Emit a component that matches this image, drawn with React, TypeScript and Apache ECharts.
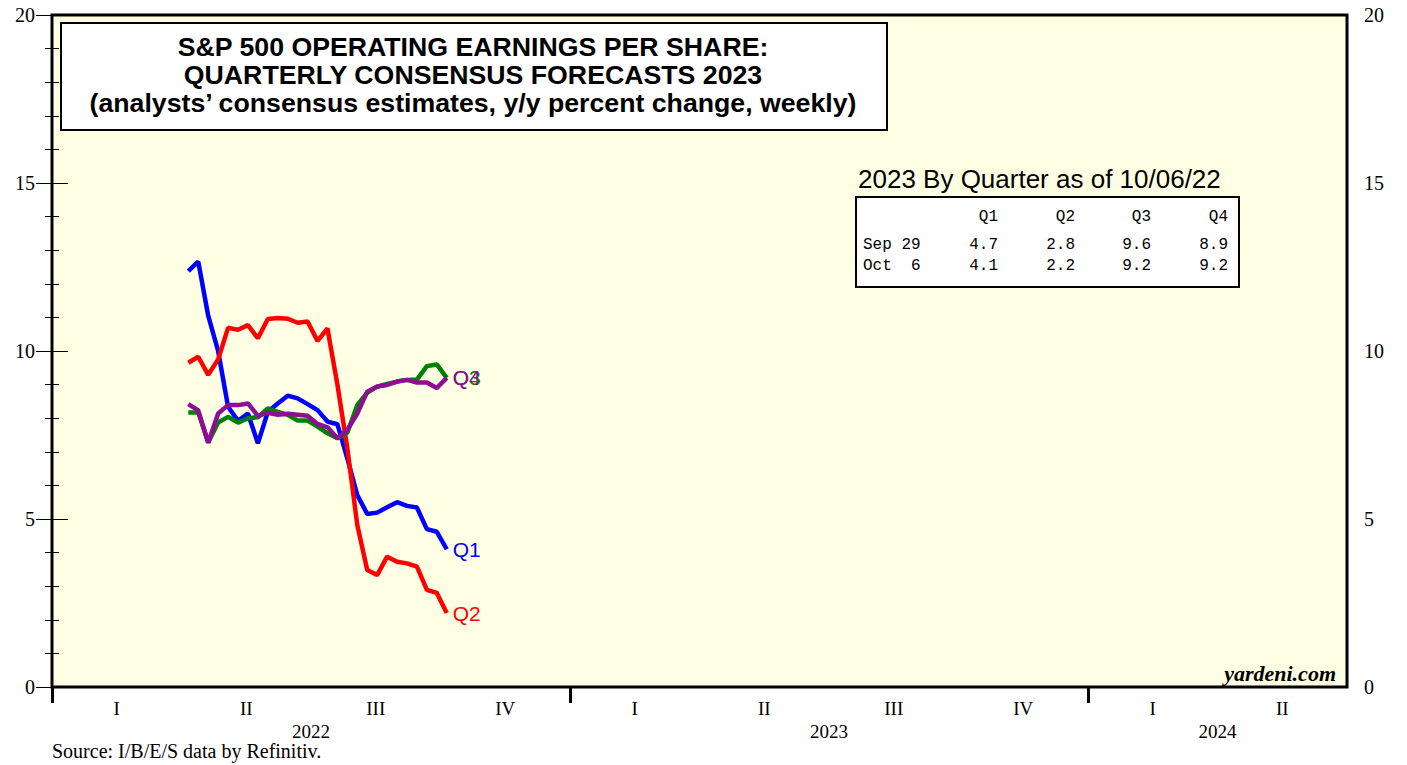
import React, { useEffect, useRef } from 'react';
import * as echarts from 'echarts';

const weeks = [
  '2022-04-07', '2022-04-14', '2022-04-21', '2022-04-28', '2022-05-05', '2022-05-12', '2022-05-19',
  '2022-05-26', '2022-06-02', '2022-06-09', '2022-06-16', '2022-06-23', '2022-06-30', '2022-07-07',
  '2022-07-14', '2022-07-21', '2022-07-28', '2022-08-04', '2022-08-11', '2022-08-18', '2022-08-25',
  '2022-09-01', '2022-09-08', '2022-09-15', '2022-09-22', '2022-09-29', '2022-10-06',
];
const q1 = [12.38, 12.66, 11.05, 10.0, 8.34, 7.92, 8.14, 7.25, 8.19, 8.44, 8.67, 8.59, 8.42, 8.24, 7.9, 7.82, 6.8, 5.71, 5.15, 5.19, 5.35, 5.5, 5.39, 5.34, 4.7, 4.62, 4.1];
const q2 = [9.65, 9.83, 9.29, 9.75, 10.69, 10.63, 10.77, 10.38, 10.95, 10.98, 10.96, 10.84, 10.88, 10.3, 10.67, 9.0, 7.1, 4.82, 3.48, 3.33, 3.88, 3.73, 3.68, 3.58, 2.89, 2.8, 2.2];
const q3 = [8.17, 8.17, 7.28, 7.87, 8.04, 7.87, 8.0, 8.03, 8.29, 8.19, 8.1, 7.93, 7.93, 7.75, 7.55, 7.4, 7.57, 8.39, 8.76, 8.94, 9.02, 9.09, 9.14, 9.15, 9.55, 9.6, 9.2];
const q4 = [8.42, 8.23, 7.27, 8.14, 8.39, 8.39, 8.44, 8.07, 8.16, 8.1, 8.13, 8.1, 8.07, 7.83, 7.73, 7.4, 7.65, 8.14, 8.79, 8.94, 8.99, 9.09, 9.14, 9.06, 9.06, 8.9, 9.2];

const seriesNames = ['Q1', 'Q2', 'Q3', 'Q4'];
const seriesColors = ['#0000FF', '#FF0000', '#008000', '#8E0C96'];

const quarterLabels = ['I', 'II', 'III', 'IV', 'I', 'II', 'III', 'IV', 'I', 'II'];
const quarterLabelPositions = [0.5, 1.5, 2.5, 3.5, 4.5, 5.5, 6.5, 7.5, 8.5, 9.5];
const yearLabels = ['2022', '2023', '2024'];
const yearLabelPositions = [2, 6, 9];
const yearTickPositions = [0, 4, 8];

const titleLines = [
  'S&P 500 OPERATING EARNINGS PER SHARE:',
  'QUARTERLY CONSENSUS FORECASTS 2023',
  '(analysts\u2019 consensus estimates, y/y percent change, weekly)',
];
const tableTitle = '2023 By Quarter as of 10/06/22';
const tableHeader = ['Q1', 'Q2', 'Q3', 'Q4'];
const tableRowLabels = ['Sep 29', 'Oct  6'];
const tableSep29 = [4.7, 2.8, 9.6, 8.9];
const tableOct6 = [4.1, 2.2, 9.2, 9.2];
const sourceText = 'Source: I/B/E/S data by Refinitiv.';
const brandText = 'yardeni.com';

const SERIF = "'Liberation Serif', 'Times New Roman', serif";
const SANS = "'Liberation Sans', Arial, sans-serif";
const MONO = "'Liberation Mono', 'Courier New', monospace";

export default function App() {
  const ref = useRef<HTMLDivElement>(null);
  useEffect(() => {
    const chart = echarts.init(ref.current!, null, { renderer: 'svg' });
    const allSeries = [q1, q2, q3, q4];
    const tableRows = [tableSep29, tableOct6];
    const colX = [998, 1075, 1151, 1228];
    const graphics: any[] = [];
    // title box
    graphics.push({
      type: 'rect', left: 60, top: 22, z: 10,
      shape: { width: 826, height: 107 },
      style: { fill: '#FFFFFF', stroke: '#000000', lineWidth: 2 },
    });
    titleLines.forEach((t, i) => {
      graphics.push({
        type: 'text', x: 473, y: 47 + i * 28, z: 11,
        style: { text: t, font: `bold 26.7px ${SANS}`, fill: '#000', align: 'center', verticalAlign: 'middle' },
      });
    });
    // table
    graphics.push({
      type: 'text', x: 858, y: 179, z: 11,
      style: { text: tableTitle, font: `26px ${SANS}`, fill: '#000', align: 'left', verticalAlign: 'middle' },
    });
    graphics.push({
      type: 'rect', left: 855, top: 196, z: 10,
      shape: { width: 383, height: 90 },
      style: { fill: '#FFFFFF', stroke: '#000000', lineWidth: 2 },
    });
    tableHeader.forEach((h, i) => {
      graphics.push({
        type: 'text', x: colX[i], y: 217, z: 11,
        style: { text: h, font: `16px ${MONO}`, fill: '#000', align: 'right', verticalAlign: 'middle' },
      });
    });
    tableRows.forEach((row, r) => {
      const y = 245 + r * 21;
      graphics.push({
        type: 'text', x: 863, y, z: 11,
        style: { text: tableRowLabels[r], font: `16px ${MONO}`, fill: '#000', align: 'left', verticalAlign: 'middle' },
      });
      row.forEach((v, i) => {
        graphics.push({
          type: 'text', x: colX[i], y, z: 11,
          style: { text: v.toFixed(1), font: `16px ${MONO}`, fill: '#000', align: 'right', verticalAlign: 'middle' },
        });
      });
    });
    graphics.push({
      type: 'text', x: 1336, y: 673, z: 11,
      style: { text: brandText, font: `italic bold 22px ${SERIF}`, fill: '#000', align: 'right', verticalAlign: 'middle' },
    });
    graphics.push({
      type: 'text', x: 52, y: 751, z: 11,
      style: { text: sourceText, font: `20px ${SERIF}`, fill: '#000', align: 'left', verticalAlign: 'middle' },
    });

    const yAxisCommon = {
      type: 'value', min: 0, max: 20, interval: 5,
      axisLine: { show: false },
      axisTick: { show: true, length: 16, lineStyle: { color: '#000', width: 1 } },
      minorTick: { show: true, splitNumber: 5, length: 7, lineStyle: { color: '#000', width: 1 } },
      splitLine: { show: false },
      minorSplitLine: { show: false },
      axisLabel: { color: '#000', fontFamily: SERIF, fontSize: 20, margin: 17 },
    };

    chart.setOption({
      animation: false,
      backgroundColor: '#FFFFFF',
      grid: {
        left: 52, right: 60, top: 15, bottom: 78, show: true,
        backgroundColor: '#FFFFE4', borderColor: '#000000', borderWidth: 3,
      },
      xAxis: [
        {
          type: 'time', min: '2022-01-01', max: '2024-07-01', show: false,
        },
        {
          type: 'value', min: 0, max: 10, position: 'bottom',
          axisLine: { show: false },
          splitLine: { show: false },
          axisTick: { show: true, customValues: yearTickPositions, length: 16, lineStyle: { color: '#000', width: 3 } },
          axisLabel: {
            show: true, customValues: quarterLabelPositions, margin: 12,
            color: '#000', fontFamily: SERIF, fontSize: 19,
            formatter: (v: number) => quarterLabels[Math.floor(v)],
          },
        },
        {
          type: 'value', min: 0, max: 10, position: 'bottom',
          axisLine: { show: false },
          splitLine: { show: false },
          axisTick: { show: false },
          axisLabel: {
            show: true, customValues: yearLabelPositions, margin: 35,
            color: '#000', fontFamily: SERIF, fontSize: 19,
            formatter: (v: number) => yearLabels[yearLabelPositions.indexOf(v)],
          },
        },
      ],
      yAxis: [
        { ...yAxisCommon, position: 'left' },
        { ...yAxisCommon, position: 'right' },
      ],
      graphic: graphics,
      series: allSeries.map((vals, i) => ({
        name: seriesNames[i],
        type: 'line',
        xAxisIndex: 0,
        yAxisIndex: 0,
        data: weeks.map((w, j) => [w, vals[j]]),
        showSymbol: false,
        symbol: 'none',
        lineStyle: { color: seriesColors[i], width: 4.5 },
        itemStyle: { color: seriesColors[i] },
        z: 3 + i,
        endLabel: {
          show: true, formatter: '{a}', color: seriesColors[i],
          fontFamily: SANS, fontSize: 21, distance: 6,
        },
      })),
    });
    return () => chart.dispose();
  }, []);
  return <div ref={ref} style={{ position: 'absolute', left: 0, top: 0, width: 1407, height: 765 }} />;
}
